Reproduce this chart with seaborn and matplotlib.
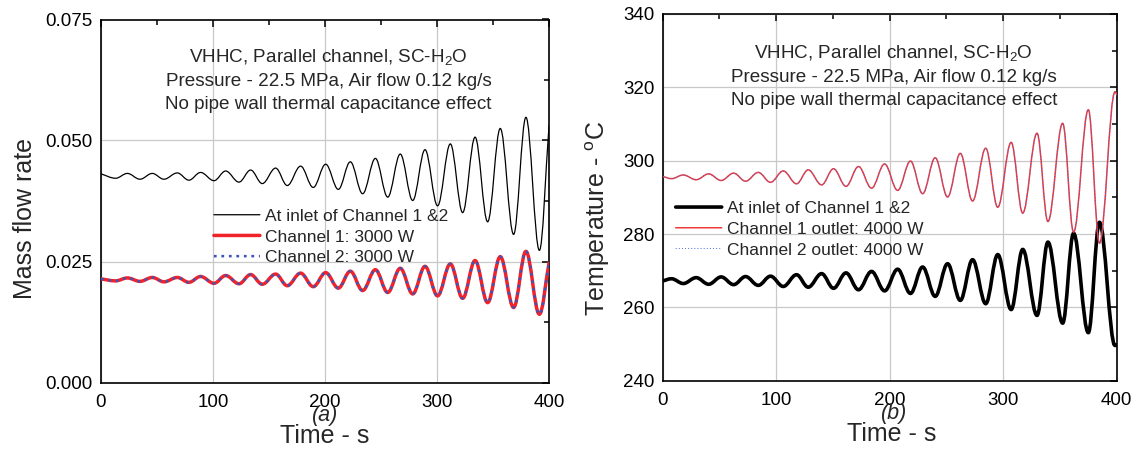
import numpy as np
import matplotlib
matplotlib.use("Agg")
import matplotlib.pyplot as plt
import seaborn as sns
from matplotlib.patheffects import AbstractPathEffect
from matplotlib.path import Path
from matplotlib.ticker import MultipleLocator, FormatStrFormatter

# ---------------- data (extrema of the oscillations) ----------------
time_a = [0.0, 13.1, 23.5, 34.8, 45.8, 56.2, 68.1, 78.5, 88.9, 100.9, 111.3, 123.2, 133.6,
          144.0, 155.9, 166.3, 178.2, 189.5, 200.6, 211.9, 222.6, 233.6, 245.0, 256.0,
          267.2, 278.3, 289.3, 300.5, 311.9, 322.9, 334.0, 345.2, 356.5, 368.4, 379.4,
          391.4, 400.0]
inlet_flow_a = [0.0431, 0.0422, 0.0432, 0.0420, 0.0432, 0.0420, 0.0433, 0.0418, 0.0434,
                0.0417, 0.0437, 0.0414, 0.0439, 0.0411, 0.0443, 0.0407, 0.0447, 0.0403,
                0.0451, 0.0399, 0.0456, 0.0390, 0.0463, 0.0383, 0.0472, 0.0376, 0.0481,
                0.0365, 0.0493, 0.0351, 0.0507, 0.0332, 0.0525, 0.0306, 0.0548, 0.0273,
                0.0530]
ch1_flow_a = [0.0214, 0.0210, 0.0216, 0.0209, 0.0217, 0.0208, 0.0217, 0.0207, 0.0219,
              0.0205, 0.0221, 0.0204, 0.0223, 0.0203, 0.0224, 0.0200, 0.0226, 0.0198,
              0.0227, 0.0195, 0.0230, 0.0190, 0.0233, 0.0186, 0.0236, 0.0183, 0.0240,
              0.0179, 0.0245, 0.0174, 0.0252, 0.0165, 0.0260, 0.0155, 0.0271, 0.0141,
              0.0247]
ch2_flow_a = [0.0214, 0.0210, 0.0216, 0.0209, 0.0217, 0.0208, 0.0217, 0.0207, 0.0219,
              0.0205, 0.0221, 0.0204, 0.0223, 0.0203, 0.0224, 0.0200, 0.0226, 0.0198,
              0.0227, 0.0195, 0.0230, 0.0190, 0.0233, 0.0186, 0.0236, 0.0183, 0.0240,
              0.0179, 0.0245, 0.0174, 0.0252, 0.0165, 0.0260, 0.0155, 0.0271, 0.0141,
              0.0247]

time_b = [0.0, 7.8, 18.1, 29.5, 40.5, 51.5, 62.5, 73.0, 84.2, 95.0, 106.2, 117.9, 128.2,
          140.0, 150.5, 161.5, 172.5, 184.0, 195.5, 207.0, 218.3, 229.0, 240.1, 251.0,
          262.2, 273.0, 284.6, 295.2, 307.0, 317.2, 329.8, 339.4, 352.4, 362.0, 375.0,
          384.8, 398.5, 400.0]
inlet_temp_b = [267.2, 267.8, 266.5, 268.1, 266.3, 268.3, 266.2, 268.4, 266.0, 268.5, 265.7,
                268.9, 265.5, 269.2, 265.2, 269.4, 264.8, 269.8, 264.5, 270.4, 263.8, 271.0,
                263.0, 271.9, 261.9, 273.0, 261.0, 274.4, 259.4, 275.8, 257.8, 277.8, 255.7,
                280.2, 253.1, 283.2, 249.6, 249.8]
ch1_outlet_temp_b = [295.7, 295.1, 296.1, 294.8, 296.4, 294.6, 296.6, 294.4, 296.8, 294.1,
                     297.2, 293.7, 297.5, 293.4, 297.8, 293.0, 298.4, 292.5, 299.1, 291.9,
                     299.9, 291.0, 300.8, 290.1, 302.0, 289.0, 303.4, 287.3, 305.0, 285.7,
                     307.5, 283.4, 310.2, 280.5, 313.9, 277.5, 318.8, 318.0]
ch2_outlet_temp_b = [295.7, 295.1, 296.1, 294.8, 296.4, 294.6, 296.6, 294.4, 296.8, 294.1,
                     297.2, 293.7, 297.5, 293.4, 297.8, 293.0, 298.4, 292.5, 299.1, 291.9,
                     299.9, 291.0, 300.8, 290.1, 302.0, 289.0, 303.4, 287.3, 305.0, 285.7,
                     307.5, 283.4, 310.2, 280.5, 313.9, 277.5, 318.8, 318.0]

labels_a = ["At inlet of Channel 1 &2", "Channel 1: 3000 W", "Channel 2: 3000 W"]
labels_b = ["At inlet of Channel 1 &2", "Channel 1 outlet: 4000 W", "Channel 2 outlet: 4000 W"]
note_lines = ["VHHC, Parallel channel, SC-H$_2$O",
              "Pressure - 22.5 MPa, Air flow 0.12 kg/s",
              "No pipe wall thermal capacitance effect"]


# Rendering effect: the recorded extrema are joined by smooth curves with
# horizontal tangents (the renderer draws Bezier segments between data points).
class ExtremaCurve(AbstractPathEffect):
    def __init__(self, k=0.364):
        super().__init__()
        self.k = k

    def draw_path(self, renderer, gc, tpath, affine, rgbFace=None):
        v = np.asarray(tpath.vertices, dtype=float)
        n = len(v)
        if n < 3:
            renderer.draw_path(gc, tpath, affine, rgbFace)
            return
        verts = [v[0]]
        codes = [Path.MOVETO]
        for i in range(n - 1):
            p0, p1 = v[i], v[i + 1]
            d = p1 - p0
            c1 = p0 + self.k * d if i == 0 else p0 + np.array([self.k * d[0], 0.0])
            c2 = p1 - self.k * d if i == n - 2 else p1 - np.array([self.k * d[0], 0.0])
            verts += [c1, c2, p1]
            codes += [Path.CURVE4] * 3
        renderer.draw_path(gc, Path(np.array(verts), codes), affine, rgbFace)


sns.set_style("white")
plt.rcParams["font.family"] = ["Liberation Sans", "DejaVu Sans"]
plt.rcParams["mathtext.fontset"] = "custom"
plt.rcParams["mathtext.rm"] = "Liberation Sans"
plt.rcParams["mathtext.it"] = "Liberation Sans:italic"
plt.rcParams["mathtext.bf"] = "Liberation Sans:bold"

fig = plt.figure(figsize=(11.38, 4.5), dpi=100)
ax_a = fig.add_axes([101 / 1138, (450 - 382.5) / 450, 448 / 1138, 363 / 450])
ax_b = fig.add_axes([662.7 / 1138, (450 - 380.7) / 450, 454 / 1138, 366.7 / 450])

smooth = [ExtremaCurve()]

# ---- panel (a)
sns.lineplot(x=time_a, y=inlet_flow_a, ax=ax_a, color="black", lw=0.9,
             path_effects=smooth, legend=False, zorder=3)
sns.lineplot(x=time_a, y=ch1_flow_a, ax=ax_a, color="#f0222a", lw=2.5,
             path_effects=smooth, legend=False, zorder=4)
sns.lineplot(x=time_a, y=ch2_flow_a, ax=ax_a, color="#3b55b8", lw=1.8,
             linestyle=(0, (1.1, 1.9)), path_effects=smooth, legend=False, zorder=5)

# ---- panel (b)
sns.lineplot(x=time_b, y=inlet_temp_b, ax=ax_b, color="black", lw=2.6,
             path_effects=smooth, legend=False, zorder=3)
sns.lineplot(x=time_b, y=ch1_outlet_temp_b, ax=ax_b, color="#ef3a3a", lw=1.1,
             path_effects=smooth, legend=False, zorder=4)
sns.lineplot(x=time_b, y=ch2_outlet_temp_b, ax=ax_b, color="#4a68dc", lw=0.7,
             linestyle=(0, (1.0, 2.2)), path_effects=smooth, legend=False, zorder=5)

for ax in (ax_a, ax_b):
    ax.set_xlim(0, 400)
    ax.xaxis.set_major_locator(MultipleLocator(100))
    ax.xaxis.set_minor_locator(MultipleLocator(50))
    ax.grid(True, which="major", color="#c8c8c8", lw=0.9, zorder=0)
    ax.set_axisbelow(True)
    ax.tick_params(which="both", direction="in", top=True, right=True,
                   labelsize=13.5, colors="black", width=1.1)
    ax.tick_params(axis="x", which="both", pad=8)
    ax.tick_params(axis="y", which="both", pad=6)
    ax.tick_params(which="major", length=5)
    ax.tick_params(which="minor", length=3.5)
    for s in ax.spines.values():
        s.set_color("black")
        s.set_linewidth(1.2)
    ax.set_xlabel("Time - s", fontsize=18)

ax_a.set_ylim(0, 0.075)
ax_a.yaxis.set_major_locator(MultipleLocator(0.025))
ax_a.yaxis.set_minor_locator(MultipleLocator(0.0125))
ax_a.yaxis.set_major_formatter(FormatStrFormatter("%.3f"))
ax_a.set_ylabel("Mass flow rate", fontsize=18)

ax_b.set_ylim(240, 340)
ax_b.yaxis.set_major_locator(MultipleLocator(20))
ax_b.yaxis.set_minor_locator(MultipleLocator(10))
ax_b.set_ylabel("Temperature - $^{\\mathrm{o}}$C", fontsize=18)

ax_a.yaxis.set_label_coords(-0.1435, 0.453)
ax_b.yaxis.set_label_coords(-0.112, 0.442)
ax_a.xaxis.set_label_coords(0.5, -0.113)
ax_b.xaxis.set_label_coords(0.505, -0.113)

ax_a.text(0.5, -0.09, "(a)", transform=ax_a.transAxes, ha="center", va="center",
          fontsize=15.5, style="italic")
ax_b.text(0.51, -0.09, "(b)", transform=ax_b.transAxes, ha="center", va="center",
          fontsize=15.5, style="italic")

for ax, xc, ys in ((ax_a, 0.508, (0.884, 0.818, 0.753)),
                   (ax_b, 0.509, (0.880, 0.8146, 0.7505))):
    for line, yy in zip(note_lines, ys):
        ax.text(xc, yy, line, transform=ax.transAxes, ha="center", va="baseline",
                fontsize=13.6)

leg_kw = dict(frameon=False, fontsize=12.5, handlelength=2.65, handletextpad=0.3,
              labelspacing=0.32, borderpad=0.0, borderaxespad=0.0, loc="center left")
ax_a.legend(ax_a.lines[:3], labels_a, bbox_to_anchor=(0.252, 0.401), **leg_kw)
ax_b.legend(ax_b.lines[:3], labels_b, bbox_to_anchor=(0.0286, 0.413), **leg_kw)

fig.savefig("out.png", dpi=100)
